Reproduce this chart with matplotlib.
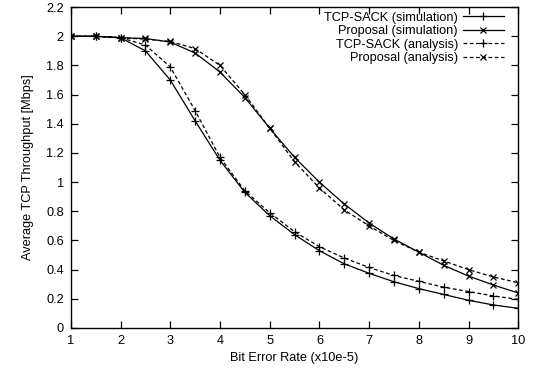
import matplotlib

matplotlib.use("Agg")
import matplotlib.pyplot as plt

plt.rcParams["font.family"] = ["Liberation Sans", "DejaVu Sans"]

ber = [1, 1.5, 2, 2.5, 3, 3.5, 4, 4.5, 5, 5.5, 6, 6.5, 7, 7.5, 8, 8.5, 9, 9.5, 10]

sack_sim = [2.0, 2.0, 1.99, 1.90, 1.70, 1.42, 1.15, 0.93, 0.77, 0.64, 0.53,
            0.44, 0.375, 0.317, 0.27, 0.23, 0.19, 0.158, 0.135]
prop_sim = [2.0, 2.0, 1.99, 1.985, 1.96, 1.885, 1.755, 1.58, 1.37, 1.17, 1.00,
            0.85, 0.72, 0.61, 0.52, 0.43, 0.356, 0.295, 0.24]
sack_ana = [2.0, 2.0, 1.99, 1.94, 1.79, 1.49, 1.17, 0.94, 0.79, 0.66, 0.557,
            0.48, 0.415, 0.36, 0.32, 0.28, 0.25, 0.22, 0.196]
prop_ana = [2.0, 2.0, 1.99, 1.98, 1.965, 1.915, 1.80, 1.60, 1.37, 1.14, 0.96,
            0.81, 0.70, 0.60, 0.52, 0.46, 0.40, 0.35, 0.31]

labels = ["TCP-SACK (simulation)", "Proposal (simulation)",
          "TCP-SACK (analysis)", "Proposal (analysis)"]
yticks = [0, 0.2, 0.4, 0.6, 0.8, 1, 1.2, 1.4, 1.6, 1.8, 2, 2.2]
ytick_labels = ["0", "0.2", "0.4", "0.6", "0.8", "1", "1.2", "1.4",
                "1.6", "1.8", "2", "2.2"]

FS = 9.2

fig = plt.figure(figsize=(5.37, 3.74), dpi=100)
ax = fig.add_axes([0.132, 0.123, 0.833, 0.858])

dash = (0, (3, 2))
line = dict(color="black", linewidth=0.9, markeredgewidth=0.9)
ax.plot(ber, sack_sim, marker="+", markersize=6, linestyle="-", label=labels[0], **line)
ax.plot(ber, prop_sim, marker="x", markersize=5, linestyle="-", label=labels[1], **line)
ax.plot(ber, sack_ana, marker="+", markersize=6, linestyle=dash, label=labels[2], **line)
ax.plot(ber, prop_ana, marker="x", markersize=5, linestyle=dash, label=labels[3], **line)

ax.set_xlim(1, 10)
ax.set_ylim(0, 2.2)
ax.set_xticks(range(1, 11))
ax.set_yticks(yticks)
ax.set_yticklabels(ytick_labels)
ax.tick_params(direction="in", top=True, right=True, length=5, width=0.9,
               labelsize=FS, pad=5)
for s in ax.spines.values():
    s.set_linewidth(1.0)

ax.set_xlabel("Bit Error Rate (x10e-5)", fontsize=FS, labelpad=4)
ax.set_ylabel("Average TCP Throughput [Mbps]", fontsize=FS, labelpad=9)

ax.legend(loc="upper right", bbox_to_anchor=(0.978, 1.0), frameon=False,
          markerfirst=False, fontsize=FS, handlelength=3.2, handletextpad=0.4,
          labelspacing=0.12, borderaxespad=0.1, borderpad=0.25)

fig.savefig("out.png", dpi=100)
